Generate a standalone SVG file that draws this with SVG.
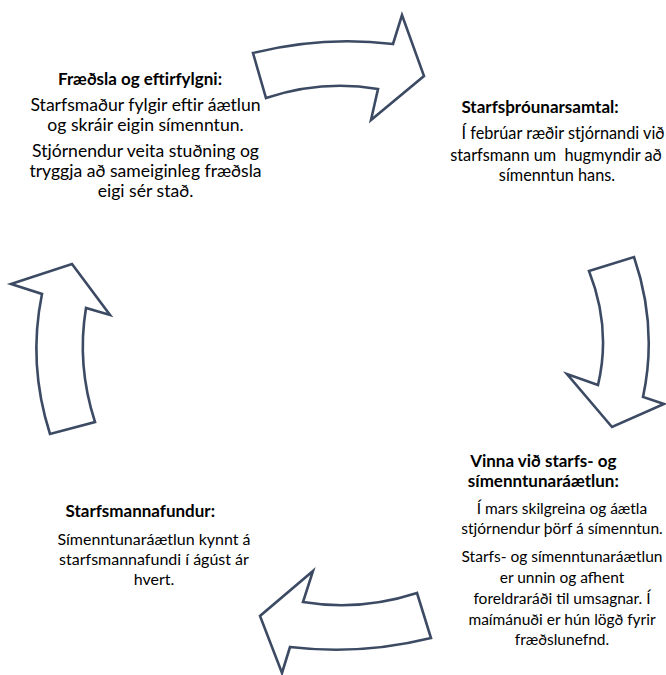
<svg xmlns="http://www.w3.org/2000/svg" width="666" height="675" viewBox="0 0 666 675">
<style>
.arrow{fill:#ffffff;stroke:#3c4b63;stroke-width:2.6;stroke-linejoin:miter}
text{font-family:Lato,"Liberation Sans",sans-serif;font-size:17px;fill:#000;text-anchor:middle}
.t{font-weight:bold;font-size:17px}
.tl{font-size:17.6px}
.tr{font-size:16.3px}
.bl{font-size:16px}
.br{font-size:15.5px}
</style>
<rect width="666" height="675" fill="#ffffff"/>
<g id="connectors">
<path id="arrow-top" class="arrow" d="M253,53 Q323,35.5 393,44 L402,15 L424,76 L371,120 L378,89 Q322,79.5 266,98 Z"/>
<path id="arrow-right" class="arrow" d="M589,271 L634,257 Q658,327 643,397 L664,404 L612,427 L567,374 L598,385 Q611.5,328 589,271 Z"/>
<path id="arrow-bottom" class="arrow" d="M417,593 Q360,611.5 303,602 L313,571 L260,616 L282,673 L290,647 Q360.5,655.5 431,638 Z"/>
<path id="arrow-left" class="arrow" d="M72,264 L110,315 L86,308 Q76.5,365 95,422 L50,434 Q27.6,364 42,294 L11,284 Z"/>
</g>
<g id="node-fraedsla">
<text class="t" x="140" y="84.5">Fræðsla og eftirfylgni:</text>
<text class="tl" x="145.5" y="110.7">Starfsmaður fylgir eftir áætlun</text>
<text class="tl" x="145.5" y="130.7">og skráir eigin símenntun.</text>
<text class="tl" x="145.5" y="156.7">Stjórnendur veita stuðning og</text>
<text class="tl" x="145.5" y="176.7">tryggja að sameiginleg fræðsla</text>
<text class="tl" x="145.5" y="197">eigi sér stað.</text>
</g>
<g id="node-starfsthrounarsamtal">
<text class="t" x="540" y="113">Starfsþróunarsamtal:</text>
<text class="tr" x="563" y="139.3">Í febrúar ræðir stjórnandi við</text>
<text class="tr" x="556" y="160.5" style="white-space:pre">starfsmann um  hugmyndir að</text>
<text class="tr" x="557" y="180.7">símenntun hans.</text>
</g>
<g id="node-vinna">
<text class="t" x="543.3" y="467">Vinna við starfs- og</text>
<text class="t" x="543.3" y="487">símenntunaráætlun:</text>
<text class="br" x="562" y="513.5">Í mars skilgreina og áætla</text>
<text class="br" x="562" y="534">stjórnendur þörf á símenntun.</text>
<text class="br" x="562" y="561.5">Starfs- og símenntunaráætlun</text>
<text class="br" x="562" y="583">er unnin og afhent</text>
<text class="br" x="562" y="604">foreldraráði til umsagnar. Í</text>
<text class="br" x="562" y="625">maímánuði er hún lögð fyrir</text>
<text class="br" x="562" y="645">fræðslunefnd.</text>
</g>
<g id="node-starfsmannafundur">
<text class="t" x="140.3" y="517">Starfsmannafundur:</text>
<text class="bl" x="154" y="545">Símenntunaráætlun kynnt á</text>
<text class="bl" x="154" y="565">starfsmannafundi í ágúst ár</text>
<text class="bl" x="154" y="585">hvert.</text>
</g>
</svg>
